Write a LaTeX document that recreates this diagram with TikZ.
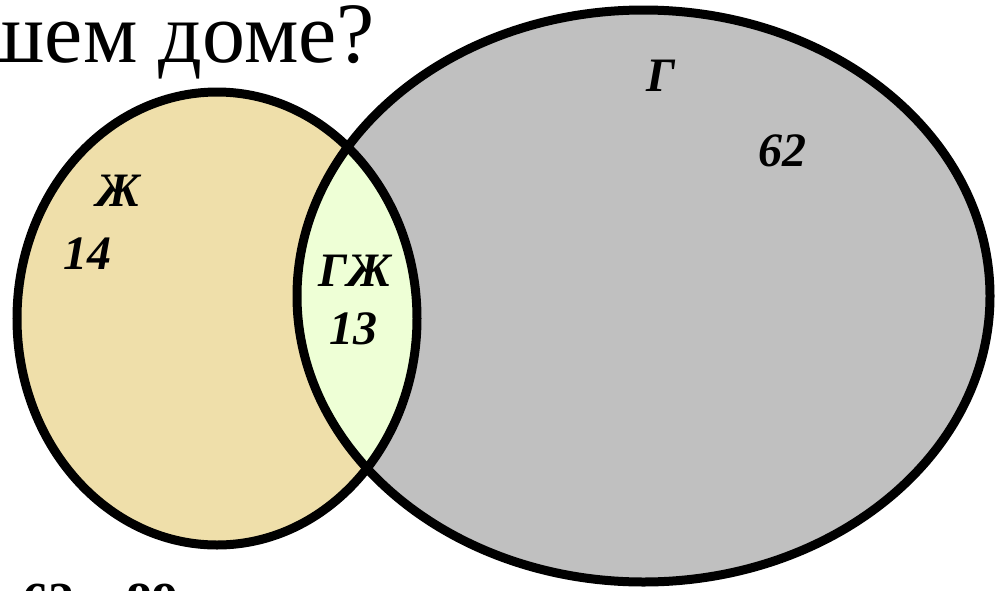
\documentclass[tikz,border=0pt]{standalone}
\usepackage{fontspec}
\setmainfont{Liberation Serif}
\definecolor{wheatfill}{HTML}{EFDFAA}
\definecolor{greyfill}{HTML}{C0C0C0}
\definecolor{midfill}{HTML}{EEFFD6}
\begin{document}
\begin{tikzpicture}[x=1pt,y=-1pt,
  lbl/.style={inner sep=0pt,font=\fontsize{48}{50}\selectfont\bfseries\itshape},
  ring/.style={draw=black,line width=9pt}]
\useasboundingbox (0,0) rectangle (999,590);
\clip (0,0) rectangle (999,590);
% fills
\fill[greyfill] (643.5,296) ellipse [x radius=346.5, y radius=286];
\fill[wheatfill] (217,318.5) ellipse [x radius=200, y radius=226.5];
\begin{scope}
  \clip (217,318.5) ellipse [x radius=200, y radius=226.5];
  \fill[midfill] (643.5,296) ellipse [x radius=346.5, y radius=286];
\end{scope}
% outlines
\draw[ring] (643.5,296) ellipse [x radius=346.5, y radius=286];
\draw[ring] (217,318.5) ellipse [x radius=200, y radius=226.5];
% labels
\node[lbl] (zh) at (118.5,190.5) {Ж};
\node[lbl] (n14) at (87.5,254) {14};
\node[lbl] (gzh) at (355,271) {ГЖ};
\node[lbl] (n13) at (353.5,329) {13};
\node[lbl] (g) at (661,75.5) {Г};
\node[lbl] (n62) at (782,150.5) {62};
% cropped texts
\node[inner sep=0pt,anchor=base east,font=\fontsize{86}{90}\selectfont] (title) at (375,62) {шем доме?};
\node[inner sep=0pt,anchor=base west,font=\fontsize{52}{56}\selectfont\bfseries] (bottom) at (22,618) {62 – 89};
\end{tikzpicture}
\end{document}
